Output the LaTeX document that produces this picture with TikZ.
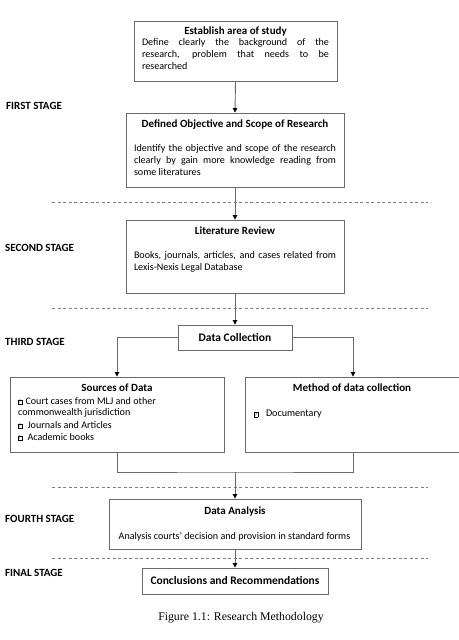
\documentclass[tikz,border=0pt]{standalone}
\usepackage{fontspec}
\setmainfont{Carlito}
\newfontfamily\capfont{Liberation Serif}
\usetikzlibrary{arrows.meta}
\definecolor{boxline}{HTML}{6A6A6A}
\hyphenpenalty=10000
\exhyphenpenalty=10000
\newcommand{\qb}{\raisebox{0.3pt}{\setlength{\fboxsep}{0.4pt}\setlength{\fboxrule}{0.35pt}\fbox{\fontsize{5}{5}\selectfont ?}}}
\begin{document}
\begin{tikzpicture}[x=1pt,y=-1pt,
  box/.style={draw=boxline, line width=0.9pt, inner sep=0pt, minimum width=#1},
  ttl/.style={font=\fontsize{11}{12}\selectfont\bfseries, inner sep=0pt},
  bigttl/.style={font=\fontsize{11.5}{12}\selectfont\bfseries, inner sep=0pt},
  body/.style={font=\fontsize{10.1}{12}\selectfont, inner sep=0pt, text width=#1, align=justify, anchor=north},
  lbody/.style={font=\fontsize{10.1}{12}\selectfont, inner sep=0pt, anchor=west},
  stage/.style={font=\fontsize{11}{12}\selectfont\bfseries, inner sep=0pt, anchor=west},
  conn/.style={draw=boxline, line width=0.9pt},
  arr/.style={conn, -{Triangle[width=4.5pt,length=4.5pt,fill=black,color=black]}},
  sep/.style={draw=gray, line width=0.6pt, dash pattern=on 3.3pt off 2.2pt}]
\useasboundingbox (0,0) rectangle (458,640);
% boxes
\node[box=203pt, minimum height=60pt] (b1) at (235.5,51) {};
\node[box=218pt, minimum height=74pt] (b2) at (235,150) {};
\node[box=218pt, minimum height=73pt] (b3) at (235,256.5) {};
\node[box=114pt, minimum height=25pt] (dc) at (235,337.5) {};
\node[box=214pt, minimum height=75pt] (src) at (117,414.5) {};
\node[box=216pt, minimum height=75pt] (meth) at (353,414.5) {};
\node[box=252pt, minimum height=50pt] (da) at (235,524) {};
\node[box=186pt, minimum height=26pt] (cr) at (235,581) {};
% texts
\node[ttl] (t1) at (235.5,32) {Establish area of study};
\node[body=187pt] (x1) at (235.5,38.5) {Define clearly the background of the\linebreak research, problem that needs to be\linebreak researched};
\node[ttl] (t2) at (235,125) {Defined Objective and Scope of Research};
\node[body=202pt] (x2) at (235,144.5) {Identify the objective and scope of the research\linebreak clearly by gain more knowledge reading from\linebreak some literatures};
\node[ttl] (t3) at (235,231) {Literature Review};
\node[body=202pt] (x3) at (235,251.5) {Books, journals, articles, and cases related from\linebreak Lexis-Nexis Legal Database};
\node[bigttl] (t4) at (235,337) {Data Collection};
\node[ttl] (t5) at (117,388) {Sources of Data};
\node[lbody] (s1) at (18,401) {\qb\hspace{3.5pt}Court cases from MLJ and other};
\node[lbody] (s2) at (18,413) {commonwealth jurisdiction};
\node[lbody] (s3) at (18,425) {\qb\hspace{5.5pt}Journals and Articles};
\node[lbody] (s4) at (18,437) {\qb\hspace{5.5pt}Academic books};
\node[ttl] (t6) at (352,388) {Method of data collection};
\node[lbody] (m1) at (254,414) {\qb\hspace{8pt}Documentary};
\node[ttl] (t7) at (235,511) {Data Analysis};
\node[font=\fontsize{10.1}{12}\selectfont, inner sep=0pt] (x7) at (234.5,537) {Analysis courts’ decision and provision in standard forms};
\node[bigttl] (t8) at (235,580) {Conclusions and Recommendations};
% stage labels
\node[stage] (l1) at (6,106) {FIRST STAGE};
\node[stage] (l2) at (5,248) {SECOND STAGE};
\node[stage] (l3) at (5,342) {THIRD STAGE};
\node[stage] (l4) at (5,519) {FOURTH STAGE};
\node[stage] (l5) at (5,573) {FINAL STAGE};
% separators
\coordinate (d1a) at (52,202); \coordinate (d1b) at (428,202);
\coordinate (d2a) at (52,308); \coordinate (d2b) at (428,308);
\coordinate (d3a) at (52,487); \coordinate (d3b) at (428,487);
\coordinate (d4a) at (52,558); \coordinate (d4b) at (428,558);
\draw[sep] (d1a) -- (d1b);
\draw[sep] (d2a) -- (d2b);
\draw[sep] (d3a) -- (d3b);
\draw[sep] (d4a) -- (d4b);
% connectors
\draw[arr] (b1.south) -- (b2.north);
\draw[arr] (b2.south) -- (b3.north);
\draw[arr] (b3.south) -- (dc.north);
\draw[arr] (dc.west) -| (src.north);
\draw[arr] (dc.east) -| (meth.north);
\coordinate (m) at (235,472);
\draw[conn] (src.south) |- (m) -| (meth.south);
\draw[arr] (m) -- (da.north);
\draw[arr] (da.south) -- (cr.north);
% caption
\node[font=\capfont\fontsize{11.8}{12}\selectfont, inner sep=0pt] (cap) at (241,618) {Figure 1.1: Research Methodology};
\end{tikzpicture}
\end{document}
